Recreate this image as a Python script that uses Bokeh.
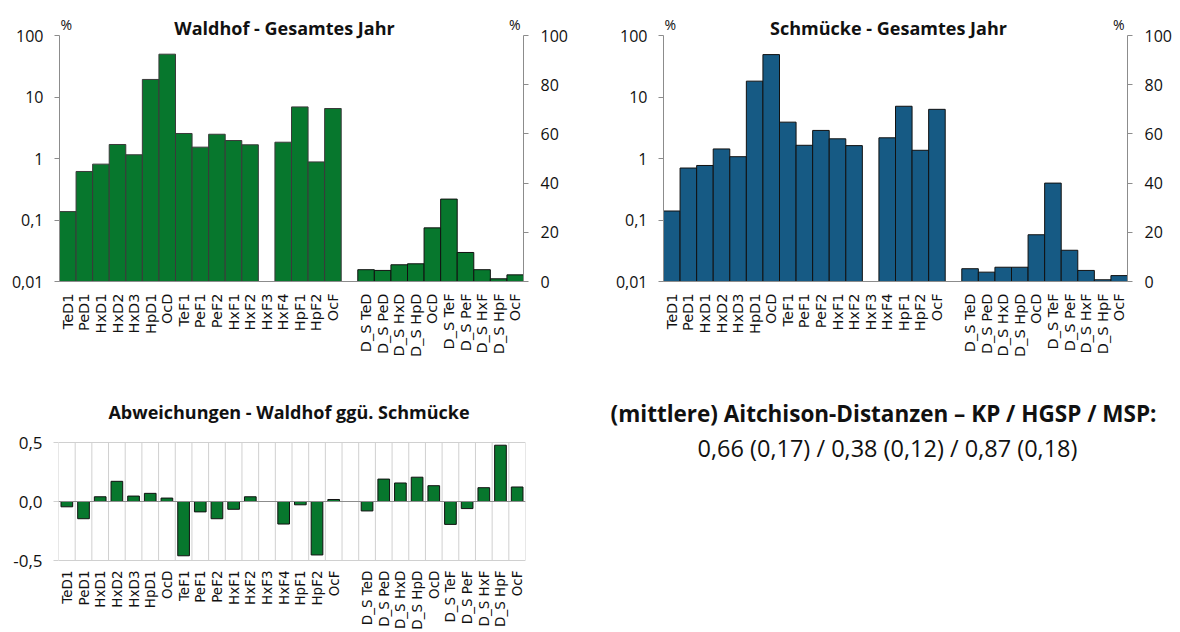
import math
from bokeh.plotting import figure
from bokeh.models import (Range1d, LinearScale, LinearAxis, FixedTicker, Label, LabelSet,
                          ColumnDataSource, Span)
from bokeh.layouts import row, column
from bokeh.core.properties import value
from bokeh.embed import file_html
from bokeh.resources import INLINE

# ---------------- data ----------------
left_labels = ["TeD1", "PeD1", "HxD1", "HxD2", "HxD3", "HpD1", "OcD", "TeF1", "PeF1",
               "PeF2", "HxF1", "HxF2", "HxF3", "HxF4", "HpF1", "HpF2", "OcF"]
right_labels = ["D_S TeD", "D_S PeD", "D_S HxD", "D_S HpD", "OcD", "D_S TeF",
                "D_S PeF", "D_S HxF", "D_S HpF", "OcF"]

# % (log axis, left group)
waldhof_left = [0.137, 0.615, 0.81, 1.69, 1.15, 19.3, 49.7, 2.55, 1.53, 2.48, 1.96, 1.67,
                None, 1.84, 6.9, 0.88, 6.5]
# % (linear axis, right group)
waldhof_right = [4.8, 4.5, 6.8, 7.2, 21.8, 33.5, 11.8, 4.8, 1.1, 2.7]

schmuecke_left = [0.14, 0.70, 0.77, 1.43, 1.07, 18.1, 48.9, 3.9, 1.64, 2.86, 2.09, 1.62,
                  None, 2.17, 7.07, 1.36, 6.3]
schmuecke_right = [5.2, 3.8, 5.8, 5.8, 19.0, 40.0, 12.7, 4.5, 0.7, 2.4]

abw_left = [-0.045, -0.146, 0.04, 0.171, 0.046, 0.069, 0.029, -0.46, -0.088, -0.146,
            -0.066, 0.04, None, -0.191, -0.028, -0.453, 0.017]
abw_right = [-0.08, 0.19, 0.157, 0.206, 0.134, -0.194, -0.06, 0.117, 0.477, 0.123]

log_ticks = [0.01, 0.1, 1, 10, 100]
log_tick_labels = ["0,01", "0,1", "1", "10", "100"]
lin_ticks = [0, 20, 40, 60, 80, 100]
abw_ticks = [-0.5, 0.0, 0.5]
abw_tick_labels = ["-0,5", "0,0", "0,5"]

titles = ["Waldhof - Gesamtes Jahr", "Schmücke - Gesamtes Jahr",
          "Abweichungen - Waldhof ggü. Schmücke"]
info_title = "(mittlere) Aitchison-Distanzen \u2013 KP / HGSP / MSP:"
info_values = "0,66 (0,17) / 0,38 (0,12) / 0,87 (0,18)"

# ---------------- style / geometry ----------------
GREEN = "#07772D"
BLUE = "#165A84"
AXIS = "#8c8c8c"
GRID = "#d0d0d0"
TXT = "#111111"
FONT = "Open Sans"
XFONT = "DejaVu Sans"

TOP_H = 378        # height of top charts
TOP_PAD = 35       # px above the value range (title area)
TOP_FH = 246       # px of the value range
BOT_H = 254
BOT_PAD = 64
BOT_FH = 118

n_left = len(left_labels)
x_left = list(range(n_left))
x_right = [n_left + 1 + i for i in range(len(right_labels))]
n_slots = n_left + 1 + len(right_labels)
all_x = x_left + x_right
all_labels = left_labels + right_labels


def pairs(xs, vals):
    px, pv = [], []
    for x, v in zip(xs, vals):
        if v is not None:
            px.append(x)
            pv.append(v)
    return px, pv


def top_chart(title, lvals, rvals, fill, lline, rline, width, bl, br, toff):
    log_top = 100 * 10 ** (4 * TOP_PAD / TOP_FH)
    lin_top = 100 * (1 + TOP_PAD / TOP_FH)
    p = figure(width=width, height=TOP_H, x_range=Range1d(-0.5, n_slots - 0.5),
               y_range=Range1d(0.01, log_top), y_axis_type="log", title=None,
               output_backend="svg", toolbar_location=None,
               min_border_left=bl, min_border_right=br, min_border_top=0,
               min_border_bottom=TOP_H - TOP_PAD - TOP_FH)
    p.extra_y_ranges = {"lin": Range1d(0, lin_top)}
    p.extra_y_scales = {"lin": LinearScale()}
    p.outline_line_color = None
    p.xgrid.visible = False
    p.ygrid.visible = False

    lx, lv = pairs(x_left, lvals)
    p.vbar(x=lx, top=lv, bottom=0.01, width=1.0, fill_color=fill,
           line_color=lline, line_width=1)
    rx, rv = pairs(x_right, rvals)
    p.vbar(x=rx, top=rv, bottom=0, width=1.0, fill_color=fill,
           line_color=rline, line_width=1, y_range_name="lin")

    ya = p.yaxis[0]
    ya.bounds = (0.01, 100)
    ya.ticker = FixedTicker(ticks=log_ticks)
    ya.major_label_overrides = {t: s for t, s in zip(log_ticks, log_tick_labels)}
    ya.minor_tick_line_color = None
    ya.major_tick_in = 0
    ya.major_tick_out = 5
    ya.axis_line_color = AXIS
    ya.major_tick_line_color = AXIS
    ya.major_label_text_font = FONT
    ya.major_label_text_font_size = "16px"
    ya.major_label_text_color = TXT
    ya.major_label_standoff = 11

    ra = LinearAxis(y_range_name="lin", ticker=FixedTicker(ticks=lin_ticks),
                    bounds=(0, 100))
    ra.minor_tick_line_color = None
    ra.major_tick_in = 0
    ra.major_tick_out = 5
    ra.axis_line_color = AXIS
    ra.major_tick_line_color = AXIS
    ra.major_label_text_font = FONT
    ra.major_label_text_font_size = "16px"
    ra.major_label_text_color = TXT
    ra.major_label_standoff = 12
    p.add_layout(ra, "right")

    xa = p.xaxis[0]
    xa.ticker = FixedTicker(ticks=all_x)
    xa.major_label_overrides = {x: s for x, s in zip(all_x, all_labels)}
    xa.major_label_orientation = math.pi / 2
    xa.major_tick_line_color = None
    xa.minor_tick_line_color = None
    xa.axis_line_color = AXIS
    xa.major_label_text_font = XFONT
    xa.major_label_text_font_size = "14.5px"
    xa.major_label_text_color = TXT
    xa.major_label_standoff = 6

    p.add_layout(Label(x=(n_slots - 1) / 2, y=100, x_offset=toff, y_offset=8,
                       text=title, text_align="center", text_baseline="alphabetic",
                       text_font=FONT, text_font_style="bold", text_font_size="18px",
                       text_color=TXT))
    p.add_layout(Label(x=-0.5, y=100, x_offset=1, y_offset=11, text="%",
                       text_align="left", text_baseline="alphabetic", text_font=FONT,
                       text_font_size="14px", text_color=TXT))
    p.add_layout(Label(x=n_slots - 0.5, y=100, x_offset=-3, y_offset=11, text="%",
                       text_align="right", text_baseline="alphabetic", text_font=FONT,
                       text_font_size="14px", text_color=TXT))
    return p


p1 = top_chart(titles[0], waldhof_left, waldhof_right, GREEN, "#3a3a3a", "#111111",
               598, 59, 75, -7)
p2 = top_chart(titles[1], schmuecke_left, schmuecke_right, BLUE, "#111111", "#111111",
               578, 65, 49, -7)

# ---------------- deviations chart ----------------
bot_top = 0.5 + BOT_PAD / BOT_FH
bot_bottom = -0.5 - (BOT_H - BOT_PAD - BOT_FH) / BOT_FH
p3 = figure(width=560, height=BOT_H, x_range=Range1d(-0.5, n_slots - 0.5),
            y_range=Range1d(bot_bottom, bot_top), title=None,
            output_backend="svg", toolbar_location=None,
            min_border_left=58, min_border_right=35, min_border_top=0,
            min_border_bottom=0)
p3.outline_line_color = None
p3.xaxis.visible = False
p3.xgrid.visible = False
p3.ygrid.ticker = FixedTicker(ticks=abw_ticks)
p3.ygrid.grid_line_color = GRID

# vertical separators between categories (only inside the value range)
bounds_x = [i - 0.5 for i in range(n_slots + 1)]
p3.segment(x0=bounds_x, y0=[abw_ticks[0]] * len(bounds_x), x1=bounds_x,
           y1=[abw_ticks[-1]] * len(bounds_x), line_color=GRID, line_width=1,
           level="underlay")
p3.add_layout(Span(location=0, dimension="width", line_color=AXIS, line_width=1))

ax, av = pairs(all_x, abw_left + abw_right)
p3.vbar(x=ax, top=av, bottom=0, width=0.7, fill_color=GREEN, line_color="#111111",
        line_width=1)

ya3 = p3.yaxis[0]
ya3.bounds = (-0.5, 0.5)
ya3.ticker = FixedTicker(ticks=abw_ticks)
ya3.major_label_overrides = {t: s for t, s in zip(abw_ticks, abw_tick_labels)}
ya3.axis_line_color = None
ya3.minor_tick_line_color = None
ya3.major_tick_in = 0
ya3.major_tick_out = 5
ya3.major_tick_line_color = GRID
ya3.major_label_text_font = FONT
ya3.major_label_text_font_size = "17px"
ya3.major_label_text_color = TXT
ya3.major_label_standoff = 11

lab_src = ColumnDataSource(dict(x=all_x, y=[-0.5] * len(all_x), text=all_labels))
p3.add_layout(LabelSet(x="x", y="y", text="text", source=lab_src, angle=math.pi / 2,
                       y_offset=-10, text_align="right", text_baseline="middle",
                       text_font=value(XFONT), text_font_size=value("13.5px"),
                       text_color=TXT))
p3.add_layout(Label(x=(n_slots - 1) / 2, y=0.5, x_offset=-3, y_offset=31,
                    text=titles[2], text_align="center", text_baseline="alphabetic",
                    text_font=FONT, text_font_style="bold", text_font_size="18px",
                    text_color=TXT))

# ---------------- info panel ----------------
P4_W = 618
p4 = figure(width=P4_W, height=BOT_H, x_range=Range1d(0, P4_W), y_range=Range1d(0, BOT_H),
            title=None, output_backend="svg", toolbar_location=None, min_border=0)
p4.axis.visible = False
p4.grid.visible = False
p4.outline_line_color = None
p4.add_layout(Label(x=323, y=BOT_H - 35, text=info_title, text_align="center",
                    text_baseline="middle", text_font=FONT, text_font_style="bold",
                    text_font_size="22.5px", text_color=TXT))
p4.add_layout(Label(x=327, y=BOT_H - 69, text=info_values, text_align="center",
                    text_baseline="middle", text_font=FONT, text_font_size="23.5px",
                    text_color=TXT))

layout = column(row(p1, p2), row(p3, p4))

with open("out.html", "w") as f:
    f.write(file_html(layout, INLINE))
